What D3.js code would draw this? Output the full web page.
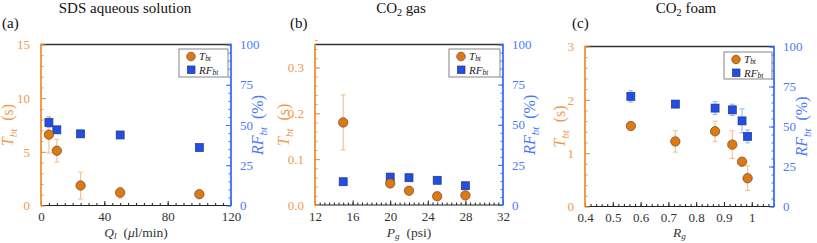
<!DOCTYPE html>
<html lang="en">
<head>
<meta charset="UTF-8">
<title>Tbt and RFbt</title>
<style>
  body { margin: 0; background: #fff; }
  svg { display: block; }
  svg text { font-family: "Liberation Serif", "Times New Roman", "DejaVu Serif", "Noto Serif", serif; }
  .axis .domain { display: none; }
</style>
</head>
<body>
<svg width="817" height="243"></svg>
<script src="https://d3js.org/d3.v7.min.js"></script>
<script>
// panel (a): SDS aqueous solution
const aX = [5, 10, 25, 50, 100];
const aT = [6.6, 5.1, 1.86, 1.2, 1.05];
const aTerr = [1.7, 1.05, 1.25, 0.5, 0.15];
const aRF = [51.5, 47, 44.5, 43.8, 36];
const aRFerr = [3, 2, 1, 1, 1];

// panel (b): CO2 gas
const bX = [15, 20, 22, 25, 28];
const bT = [0.18, 0.047, 0.031, 0.019, 0.021];
const bTerr = [0.06, 0.003, 0.003, 0.003, 0.003];
const bRF = [14.5, 17.4, 17, 15.4, 12];
const bRFerr = [0.8, 0.8, 0.8, 0.8, 0.8];

// panel (c): CO2 foam
const cX = [0.565, 0.725, 0.868, 0.93, 0.965, 0.985];
const cT = [1.51, 1.22, 1.41, 1.16, 0.84, 0.53];
const cTerr = [0.05, 0.2, 0.19, 0.26, 0.03, 0.23];
const cRF = [68.8, 64, 61.5, 60.4, 53.5, 43.8];
const cRFerr = [3.5, 1.5, 4, 3.5, 7.5, 4];

const rfTicks = [0, 25, 50, 75, 100];

const FONT = "'Liberation Serif', 'Times New Roman', 'DejaVu Serif', serif";
const ORANGE = "#f0913a", ORANGE_TXT = "#f29a4c", ORANGE_FILL = "#e07810", ORANGE_ERR = "#f5c08e";
const BLUE = "#3d6bff", BLUE_TXT = "#4a78ff", BLUE_FILL = "#1f4fe6", BLUE_ERR = "#9cb4ff";

const panels = [
  { x: aX, t: aT, te: aTerr, rf: aRF, rfe: aRFerr,
    box: [41, 231, 44.5, 205.5], xDom: [0, 120], xTicks: [0, 40, 80, 120], xMinor: 5, xFmt: d3.format("d"),
    yDom: [0, 15], yTicks: [0, 5, 10, 15], yMinor: 1, yFmt: d3.format("d"),
    title: "SDS aqueous solution", titleX: 125, tag: "(a)", tagX: 2,
    xlab: [["Q", "i"], ["l", "subi"], ["\u2002(", ""], ["\u03bc", "i"], ["l/min)", ""]],
    ylabX: 13, rlabX: 263, legend: [179, 49, 49, 28] },
  { x: bX, t: bT, te: bTerr, rf: bRF, rfe: bRFerr,
    box: [315, 503, 44.5, 205], xDom: [12, 32], xTicks: [12, 16, 20, 24, 28, 32], xMinor: 0.5, xFmt: d3.format("d"),
    yDom: [0, 0.35], yTicks: [0, 0.1, 0.2, 0.3], yMinor: 0.02, yFmt: d3.format(".1f"),
    title: "gas", titleX: 401, tag: "(b)", tagX: 290,
    xlab: [["P", "i"], ["g", "subi"], ["\u2002(psi)", ""]],
    ylabX: 289, rlabX: 535, legend: [449, 49, 51, 28] },
  { x: cX, t: cT, te: cTerr, rf: cRF, rfe: cRFerr,
    box: [585, 774, 46.5, 206.5], xDom: [0.4, 1.08], xTicks: [0.4, 0.5, 0.6, 0.7, 0.8, 0.9, 1], xMinor: 0.02, xFmt: d => d === 1 ? "1" : d3.format(".1f")(d),
    yDom: [0, 3], yTicks: [0, 1, 2, 3], yMinor: 0.2, yFmt: d3.format("d"),
    title: "foam", titleX: 686, tag: "(c)", tagX: 572,
    xlab: [["R", "i"], ["g", "subi"]],
    ylabX: 565, rlabX: 807, legend: [724, 52, 48, 27] }
];

const svg = d3.select("svg");

function minorVals(dom, step) {
  const n = Math.round((dom[1] - dom[0]) / step);
  const out = [];
  for (let i = 0; i <= n; i++) out.push(+(dom[0] + i * step).toFixed(6));
  return out;
}

// text built from [string, style] parts; "i" italic, "sub" subscript
function richText(sel, parts, size, drop = 0.22) {
  let down = false;
  parts.forEach(p => {
    const ts = sel.append("tspan").text(p[0]).attr("font-family", FONT);
    if (p[1].includes("i")) ts.attr("font-style", "italic");
    if (p[1].includes("sub")) {
      ts.attr("font-size", size * 0.68).attr("dy", size * drop);
      down = true;
    } else if (down) {
      ts.attr("dy", -size * drop);
      down = false;
    }
  });
}

panels.forEach(p => {
  const [L, R, T, B] = p.box;
  const x = d3.scaleLinear().domain(p.xDom).range([L, R]);
  const y = d3.scaleLinear().domain(p.yDom).range([B, T]);
  const yr = d3.scaleLinear().domain([0, 100]).range([B, T]);
  const g = svg.append("g");

  // bottom axis: minor + major ticks, pointing up
  g.append("g").attr("class", "axis").attr("transform", `translate(0,${B})`)
    .call(d3.axisBottom(x).tickValues(minorVals(p.xDom, p.xMinor).filter(v => v <= p.xDom[1])).tickSize(-2.5).tickFormat(""))
    .selectAll("line").attr("stroke", "#222");
  g.append("g").attr("class", "axis").attr("transform", `translate(0,${B})`)
    .call(d3.axisBottom(x).tickValues(p.xTicks).tickSizeInner(-4.5).tickSizeOuter(0).tickPadding(6.5).tickFormat(p.xFmt))
    .call(a => a.attr("font-family", FONT).attr("font-size", 13))
    .call(a => a.selectAll("line").attr("stroke", "#222"))
    .call(a => a.selectAll("text").attr("fill", "#333"));
  g.append("line").attr("x1", L).attr("x2", R).attr("y1", B).attr("y2", B).attr("stroke", "#222").attr("stroke-width", 1.2);
  g.append("line").attr("x1", L).attr("x2", R).attr("y1", T).attr("y2", T).attr("stroke", "#333").attr("stroke-width", 1.6);

  // left axis (orange)
  g.append("g").attr("class", "axis").attr("transform", `translate(${L},0)`)
    .call(d3.axisLeft(y).tickValues(minorVals(p.yDom, p.yMinor)).tickSize(-2.5).tickFormat(""))
    .selectAll("line").attr("stroke", ORANGE);
  g.append("g").attr("class", "axis").attr("transform", `translate(${L},0)`)
    .call(d3.axisLeft(y).tickValues(p.yTicks).tickSizeInner(-5).tickSizeOuter(0).tickPadding(11).tickFormat(p.yFmt))
    .call(a => a.attr("font-family", FONT).attr("font-size", 13))
    .call(a => a.selectAll("line").attr("stroke", ORANGE))
    .call(a => a.selectAll("text").attr("fill", ORANGE_TXT));
  g.append("line").attr("x1", L).attr("x2", L).attr("y1", T - 0.8).attr("y2", B + 0.6).attr("stroke", ORANGE).attr("stroke-width", 1.8);

  // right axis (blue)
  g.append("g").attr("class", "axis").attr("transform", `translate(${R},0)`)
    .call(d3.axisRight(yr).tickValues(minorVals([0, 100], 5)).tickSize(-2.5).tickFormat(""))
    .selectAll("line").attr("stroke", BLUE);
  g.append("g").attr("class", "axis").attr("transform", `translate(${R},0)`)
    .call(d3.axisRight(yr).tickValues(rfTicks).tickSizeInner(-5).tickSizeOuter(0).tickPadding(9).tickFormat(d3.format("d")))
    .call(a => a.attr("font-family", FONT).attr("font-size", 13))
    .call(a => a.selectAll("line").attr("stroke", BLUE))
    .call(a => a.selectAll("text").attr("fill", BLUE_TXT));
  g.append("line").attr("x1", R).attr("x2", R).attr("y1", T - 0.8).attr("y2", B + 0.6).attr("stroke", BLUE).attr("stroke-width", 1.8);

  // error bars
  function errBars(vals, errs, sc, col) {
    const eb = g.append("g").attr("stroke", col).attr("stroke-width", 1.1);
    p.x.forEach((xv, i) => {
      const cx = x(xv), y1 = sc(vals[i] - errs[i]), y2 = sc(vals[i] + errs[i]);
      eb.append("line").attr("x1", cx).attr("x2", cx).attr("y1", y1).attr("y2", y2);
      eb.append("line").attr("x1", cx - 2.5).attr("x2", cx + 2.5).attr("y1", y1).attr("y2", y1);
      eb.append("line").attr("x1", cx - 2.5).attr("x2", cx + 2.5).attr("y1", y2).attr("y2", y2);
    });
  }
  errBars(p.t, p.te, y, ORANGE_ERR);
  errBars(p.rf, p.rfe, yr, BLUE_ERR);

  g.selectAll(null).data(p.x.map((xv, i) => [xv, p.rf[i]])).join("rect")
    .attr("x", d => x(d[0]) - 4).attr("y", d => yr(d[1]) - 4)
    .attr("width", 8).attr("height", 8)
    .attr("fill", BLUE_FILL).attr("stroke", "#2b3470").attr("stroke-width", 0.7);
  g.selectAll(null).data(p.x.map((xv, i) => [xv, p.t[i]])).join("circle")
    .attr("cx", d => x(d[0])).attr("cy", d => y(d[1])).attr("r", 4.7)
    .attr("fill", ORANGE_FILL).attr("stroke", "#5e4a38").attr("stroke-width", 0.7);

  // legend
  const [lx, ly, lw, lh] = p.legend;
  const lg = g.append("g");
  lg.append("rect").attr("x", lx).attr("y", ly).attr("width", lw).attr("height", lh)
    .attr("fill", "#fff").attr("stroke", "#666").attr("stroke-width", 0.8);
  lg.append("circle").attr("cx", lx + 12).attr("cy", ly + 7.5).attr("r", 4.3)
    .attr("fill", ORANGE_FILL).attr("stroke", "#5e4a38").attr("stroke-width", 0.7);
  lg.append("rect").attr("x", lx + 8.5).attr("y", ly + 17).attr("width", 7.5).attr("height", 7.5)
    .attr("fill", BLUE_FILL).attr("stroke", "#2b3470").attr("stroke-width", 0.7);
  const l1 = lg.append("text").attr("x", lx + 20).attr("y", ly + 11).attr("font-size", 11).attr("fill", "#222");
  richText(l1, [["T", "i"], ["bt", "subi"]], 11, 0.12);
  const l2 = lg.append("text").attr("x", lx + 20).attr("y", ly + 24.5).attr("font-size", 11).attr("fill", "#222");
  richText(l2, [["RF", "i"], ["bt", "subi"]], 11, 0.12);

  // titles
  const tt = svg.append("text").attr("x", p.titleX).attr("y", 12.5).attr("text-anchor", "middle")
    .attr("font-family", FONT).attr("font-size", 15).attr("fill", "#111");
  if (p.title === "gas" || p.title === "foam") {
    richText(tt, [["CO", ""], ["2", "sub"], [" " + p.title, ""]], 15);
  } else {
    tt.text(p.title);
  }
  svg.append("text").attr("x", p.tagX).attr("y", 28).attr("font-family", FONT)
    .attr("font-size", 15).attr("fill", "#111").text(p.tag);

  // x label
  const xl = svg.append("text").attr("x", (L + R) / 2).attr("y", 237).attr("text-anchor", "middle")
    .attr("font-family", FONT).attr("font-size", 13.5).attr("fill", "#333");
  richText(xl, p.xlab, 13.5, 0.18);

  // y labels
  const cy = (T + B) / 2;
  const yl = svg.append("text").attr("transform", `translate(${p.ylabX},${cy}) rotate(-90)`)
    .attr("text-anchor", "middle").attr("font-family", FONT).attr("font-size", 16).attr("fill", ORANGE_TXT);
  richText(yl, [["T", "i"], ["bt", "subi"], ["\u2002(s)", ""]], 16);
  const rl = svg.append("text").attr("transform", `translate(${p.rlabX},${cy}) rotate(-90)`)
    .attr("text-anchor", "middle").attr("font-family", FONT).attr("font-size", 16).attr("fill", BLUE_TXT);
  richText(rl, [["RF", "i"], ["bt", "subi"], ["\u2002(%)", ""]], 16);
});
</script>
</body>
</html>
